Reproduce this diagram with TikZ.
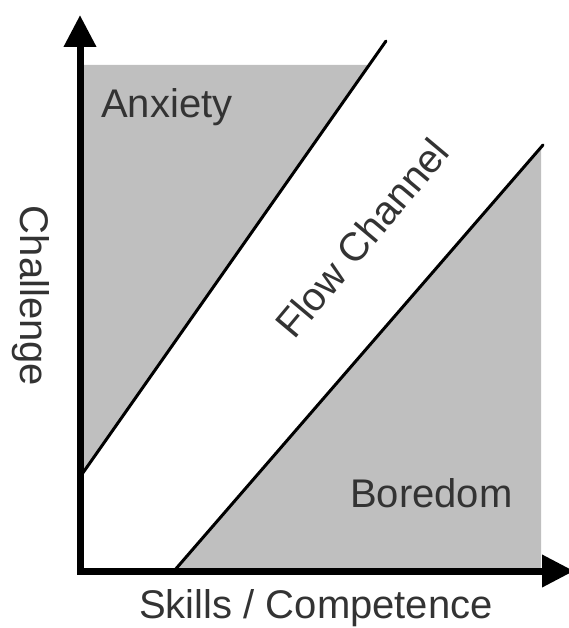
\documentclass[tikz,border=0pt]{standalone}
\usepackage{fontspec}
\setmainfont{Liberation Sans}
\usepackage{xcolor}
\usetikzlibrary{arrows.meta}
\tikzset{
    flowzone/.style={fill=gray!50, draw=none},
    flowline/.style={draw, line width=3pt, line cap=round},
    flowaxis/.style={draw, line width=7pt, line join=miter, {Triangle[length=32pt,width=31pt]}-{Triangle[length=32pt,width=31pt]}},
    flowlabel/.style={inner sep=0pt, text=black!80, font=\fontsize{40}{46}\selectfont}
}
\begin{document}
\begin{tikzpicture}[x=1pt, y=-1pt]
    \useasboundingbox (0,0) rectangle (568,628);

    % corners of the chart
    \coordinate (origin) at (80,571);
    \coordinate (ytop) at (80,15);
    \coordinate (xend) at (574,571);
    \coordinate (anxlow) at (80,477);
    \coordinate (anxhigh) at (386,41);
    \coordinate (borlow) at (174,571);
    \coordinate (borhigh) at (543,145);

    % shaded zones
    \fill[flowzone] (80,65) -- (369,65) -- (anxlow) -- cycle;
    \fill[flowzone] (borlow) -- (541,147) -- (541,571) -- cycle;

    % channel borders
    \draw[flowline] (anxlow) -- (anxhigh);
    \draw[flowline] (borlow) -- (borhigh);

    % axes
    \draw[flowaxis] (ytop) -- (origin) -- (xend);

    \node[flowlabel, anchor=base west] (anxiety) at (101,118) {Anxiety};
    \node[flowlabel, anchor=base west] (boredom) at (350,507) {Boredom};
    \node[flowlabel, rotate=50] (channel) at (362,238) {Flow Channel};
    \node[flowlabel, anchor=base] (skills) at (316,618) {Skills / Competence};
    \node[flowlabel, rotate=-90] (challenge) at (31,296) {Challenge};
\end{tikzpicture}
\end{document}
